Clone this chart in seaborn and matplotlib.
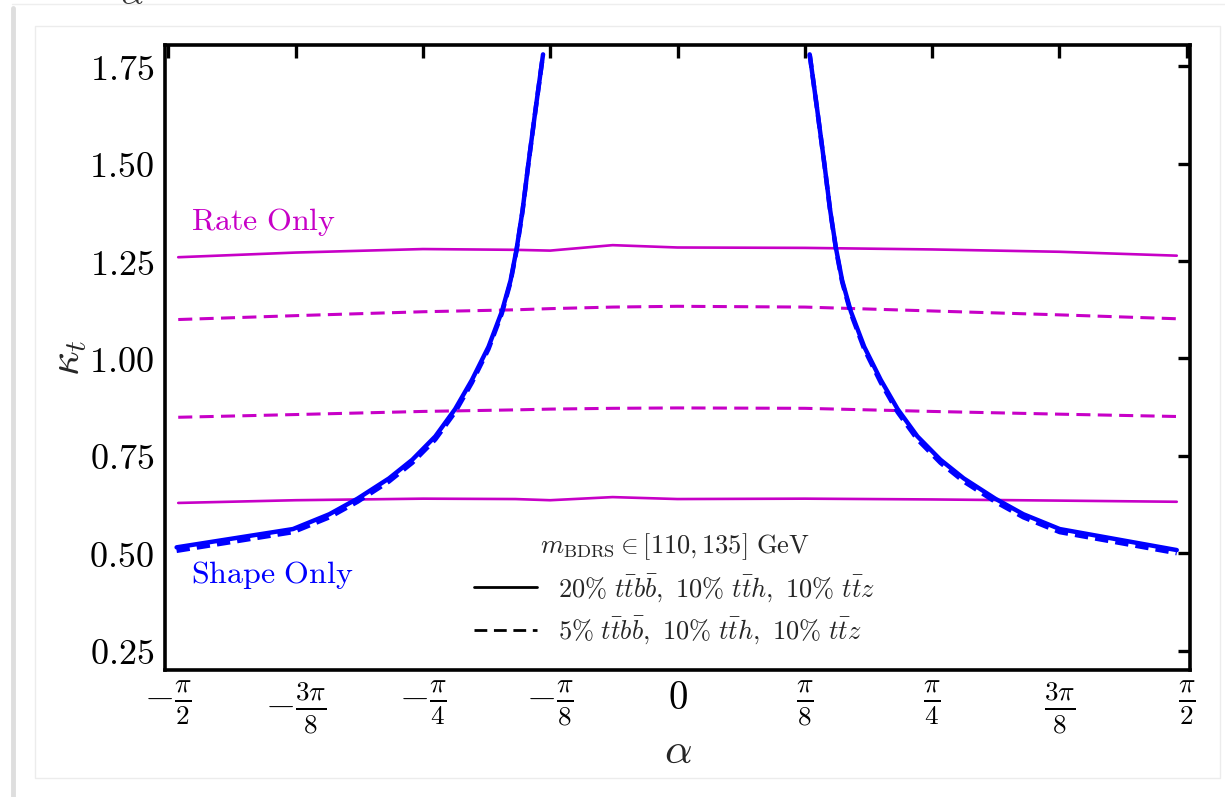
import numpy as np
import matplotlib
matplotlib.use("Agg")
import matplotlib.pyplot as plt
from matplotlib.lines import Line2D
from matplotlib.patches import Rectangle
import seaborn as sns

# ---- data -------------------------------------------------------------
# Rate-only limits (magenta), sampled in alpha
alpha_rate = [-1.54, -1.178, -0.785, -0.50, -0.393, -0.20, 0.0, 0.393, 0.785, 1.178, 1.54]
rate_hi_20 = [1.260, 1.272, 1.281, 1.279, 1.277, 1.291, 1.285, 1.284, 1.280, 1.274, 1.264]
rate_hi_5 = [1.100, 1.110, 1.120, 1.125, 1.128, 1.132, 1.134, 1.132, 1.122, 1.112, 1.102]
rate_lo_5 = [0.849, 0.856, 0.864, 0.868, 0.870, 0.872, 0.873, 0.872, 0.864, 0.857, 0.851]
rate_lo_20 = [0.629, 0.636, 0.640, 0.639, 0.636, 0.644, 0.639, 0.640, 0.638, 0.635, 0.632]

# Shape-only limits (blue), left and right branches
alpha_shape_left = [-1.545, -1.186, -1.074, -0.987, -0.890, -0.818, -0.747, -0.686,
                    -0.634, -0.583, -0.542, -0.515, -0.4965, -0.478, -0.460, -0.437, -0.4147]
shape_left_20 = [0.515, 0.562, 0.600, 0.640, 0.692, 0.740, 0.800, 0.870,
                 0.945, 1.030, 1.120, 1.200, 1.280, 1.380, 1.500, 1.645, 1.781]
shape_left_5 = [0.506, 0.554, 0.592, 0.632, 0.684, 0.732, 0.792, 0.862,
                0.938, 1.024, 1.115, 1.196, 1.277, 1.378, 1.499, 1.644, 1.781]

alpha_shape_right = [0.4077, 0.430, 0.453, 0.471, 0.4895, 0.508, 0.535, 0.576,
                     0.627, 0.679, 0.740, 0.811, 0.883, 0.980, 1.067, 1.179, 1.540]
shape_right_20 = [1.781, 1.645, 1.500, 1.380, 1.280, 1.200, 1.120, 1.030,
                  0.945, 0.870, 0.800, 0.740, 0.692, 0.640, 0.600, 0.562, 0.508]
shape_right_5 = [1.781, 1.644, 1.499, 1.378, 1.277, 1.196, 1.115, 1.024,
                 0.938, 0.862, 0.792, 0.732, 0.684, 0.632, 0.592, 0.554, 0.500]

xtick_vals = [-np.pi / 2, -3 * np.pi / 8, -np.pi / 4, -np.pi / 8, 0,
              np.pi / 8, np.pi / 4, 3 * np.pi / 8, np.pi / 2]
xtick_labels = [r'$-\frac{\pi}{2}$', r'$-\frac{3\pi}{8}$', r'$-\frac{\pi}{4}$',
                r'$-\frac{\pi}{8}$', r'$0$', r'$\frac{\pi}{8}$', r'$\frac{\pi}{4}$',
                r'$\frac{3\pi}{8}$', r'$\frac{\pi}{2}$']
ytick_vals = [0.25, 0.50, 0.75, 1.00, 1.25, 1.50, 1.75]
ytick_labels = [r'$0.25$', r'$0.50$', r'$0.75$', r'$1.00$', r'$1.25$', r'$1.50$', r'$1.75$']

legend_title = r'$m_{\mathrm{BDRS}} \in [110, 135]\ \mathrm{GeV}$'
legend_labels = [r'$20\%\ t\bar{t}b\bar{b},\ 10\%\ t\bar{t}h,\ 10\%\ t\bar{t}z$',
                 r'$5\%\ t\bar{t}b\bar{b},\ 10\%\ t\bar{t}h,\ 10\%\ t\bar{t}z$']

# ---- style ------------------------------------------------------------
sns.set_theme(style="white")
plt.rcParams['mathtext.fontset'] = 'cm'
plt.rcParams['font.family'] = ['DejaVu Serif']

MAG = (0.78, 0.0, 0.78)
BLUE = (0.0, 0.0, 1.0)
DASH = (4.6, 2.4)

fig = plt.figure(figsize=(12.25, 7.97), dpi=100)
ax = fig.add_axes([165 / 1225, 1 - 670 / 797, (1190 - 165) / 1225, (670 - 45) / 797])

# rate-only curves
for ys, dashed in [(rate_hi_20, False), (rate_lo_20, False),
                   (rate_hi_5, True), (rate_lo_5, True)]:
    sns.lineplot(x=alpha_rate, y=ys, ax=ax, color=MAG, lw=2.2 if dashed else 1.9,
                 sort=False, estimator=None)
    if dashed:
        ax.lines[-1].set_dashes(DASH)

# shape-only curves
for xs, ys, dashed in [(alpha_shape_left, shape_left_20, False),
                       (alpha_shape_right, shape_right_20, False),
                       (alpha_shape_left, shape_left_5, True),
                       (alpha_shape_right, shape_right_5, True)]:
    sns.lineplot(x=xs, y=ys, ax=ax, color=BLUE, lw=3.2, sort=False,
                 estimator=None)
    ax.lines[-1].set_solid_joinstyle('round')
    ax.lines[-1].set_dash_joinstyle('round')
    if dashed:
        ax.lines[-1].set_dashes((3.0, 1.6))

ax.set_xlim(-np.pi / 2 - 0.01, np.pi / 2 + 0.01)
ax.set_ylim(0.20, 1.805)
ax.set_xticks(xtick_vals)
ax.set_xticklabels(xtick_labels, fontsize=28)
ax.set_yticks(ytick_vals)
ax.set_yticklabels(ytick_labels, fontsize=26)
ax.tick_params(direction='in', length=9, width=2.4, top=True, right=True,
               colors='black', pad=8)
ax.tick_params(axis='x', pad=7)
for sp in ax.spines.values():
    sp.set_linewidth(2.6)
    sp.set_color('black')
    sp.set_visible(True)

ax.set_xlabel(r'$\alpha$', fontsize=31, labelpad=-5)
ax.set_ylabel(r'$\kappa_t$', fontsize=31, labelpad=0)

ax.text(-1.50, 1.35, r'$\mathrm{Rate\ Only}$', color=MAG, fontsize=23,
        ha='left', va='center')
ax.text(-1.50, 0.444, r'$\mathrm{Shape\ Only}$', color=BLUE, fontsize=23,
        ha='left', va='center')

handles = [Line2D([], [], color='black', lw=2.0),
           Line2D([], [], color='black', lw=2.0, dashes=DASH)]
leg = ax.legend(handles, legend_labels, title=legend_title, loc='lower center',
                bbox_to_anchor=(0.497, 0.0), frameon=False, fontsize=19,
                title_fontsize=19, handlelength=2.4, handletextpad=0.8,
                labelspacing=0.4)

# page border around the plot
fig.patches.append(Rectangle((35 / 1225, 1 - 778 / 797), (1220 - 35) / 1225,
                             (778 - 26) / 797, transform=fig.transFigure,
                             fill=False, edgecolor='#ececec', lw=1.0))
fig.add_artist(Line2D([12 / 1225, 1.0], [1 - 4 / 797, 1 - 4 / 797],
                      transform=fig.transFigure, color='#eeeeee', lw=1.0))
fig.add_artist(Line2D([13 / 1225, 13 / 1225], [0.0, 1 - 8 / 797],
                      transform=fig.transFigure, color='#d6d6d6', lw=3.5, alpha=0.8))
fig.text(120 / 1225, 1.0 + 6 / 797, r'$\alpha$', fontsize=26, ha='left', va='center',
         color='#333333')

fig.savefig('out.png', dpi=100)
